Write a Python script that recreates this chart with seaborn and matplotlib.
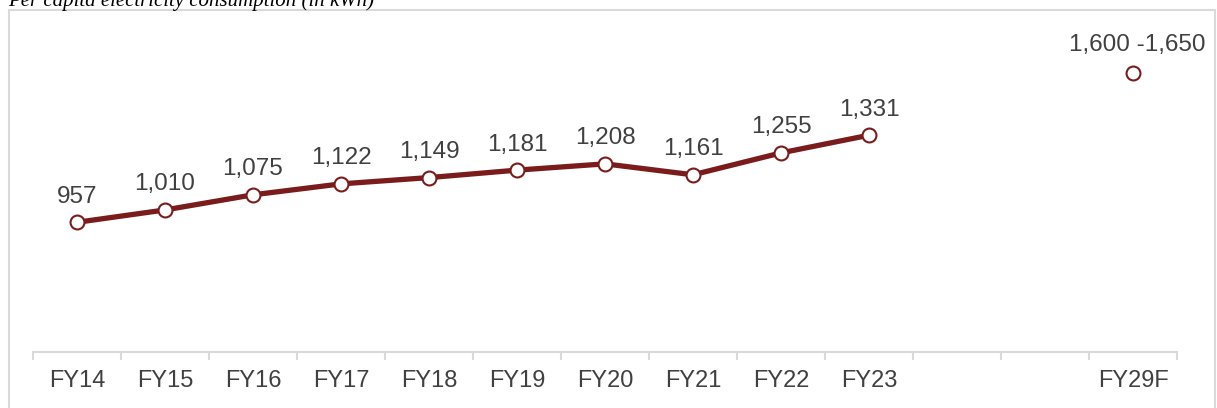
import pandas as pd
import seaborn as sns
import matplotlib.pyplot as plt
from matplotlib.patches import Rectangle
from matplotlib.ticker import FixedLocator

# data
categories = ["FY14", "FY15", "FY16", "FY17", "FY18", "FY19", "FY20",
              "FY21", "FY22", "FY23", "", "", "FY29F"]
actual_years = ["FY14", "FY15", "FY16", "FY17", "FY18", "FY19", "FY20",
                "FY21", "FY22", "FY23"]
actual_values = [957, 1010, 1075, 1122, 1149, 1181, 1208, 1161, 1255, 1331]
forecast_years = ["FY29F"]
forecast_values = [1600]
forecast_labels = ["1,600 -1,650"]

pos = {c: i for i, c in enumerate(categories) if c}
df_act = pd.DataFrame({"year": actual_years, "value": actual_values})
df_act["x"] = df_act["year"].map(pos)
df_fc = pd.DataFrame({"year": forecast_years, "value": forecast_values})
df_fc["x"] = df_fc["year"].map(pos)

sns.set_theme(style="white")
plt.rcParams["font.family"] = ["Liberation Sans", "DejaVu Sans"]

line_col = "#7B1C1C"
text_col = "#404040"
grid_col = "#D9D9D9"

fig = plt.figure(figsize=(12.17, 4.08), dpi=100)
ax = fig.add_axes([33 / 1217, 56 / 408, 1144 / 1217, 326 / 408])

sns.lineplot(data=df_act, x="x", y="value", ax=ax, color=line_col, linewidth=3.8,
             marker="o", markersize=10, markerfacecolor="white",
             markeredgecolor=line_col, markeredgewidth=1.5, zorder=3)
sns.scatterplot(data=df_fc, x="x", y="value", ax=ax, s=100, color="white",
                edgecolor=line_col, linewidth=1.5, zorder=3)

for x, v in zip(df_act["x"], df_act["value"]):
    ax.annotate(f"{v:,}", (x, v), xytext=(0, 10.5), textcoords="offset points",
                ha="center", va="bottom", fontsize=17.5, color=text_col)
for x, v, lab in zip(df_fc["x"], df_fc["value"], forecast_labels):
    ax.annotate(lab, (x, v), xytext=(3, 12), textcoords="offset points",
                ha="center", va="bottom", fontsize=17.5, color=text_col)

ax.set_xlim(-0.5, len(categories) - 0.5)
ax.set_ylim(400, 1800)
ax.set_xticks(range(len(categories)))
ax.set_xticklabels(categories, fontsize=17, color=text_col)
ax.xaxis.set_minor_locator(FixedLocator([i - 0.5 for i in range(len(categories) + 1)]))
ax.tick_params(axis="x", which="major", length=0, pad=13)
ax.tick_params(axis="x", which="minor", length=6, width=1.5, color=grid_col,
               direction="out", bottom=True)
ax.set_yticks([])
ax.set_xlabel("")
ax.set_ylabel("")
for s in ["top", "right", "left"]:
    ax.spines[s].set_visible(False)
ax.spines["bottom"].set_color(grid_col)
ax.spines["bottom"].set_linewidth(1.5)

# outer frame
fig.patches.append(Rectangle((9 / 1217, -0.05), 1206 / 1217, 1.05 - 10 / 408,
                             transform=fig.transFigure, fill=False,
                             edgecolor=grid_col, linewidth=1.5, zorder=0))

fig.text(8 / 1217, 1 - 6 / 408, "Per capita electricity consumption (in kWh)",
         fontsize=15, style="italic", family="Liberation Serif",
         color="black", ha="left", va="baseline")

fig.savefig("out.png", dpi=100)
